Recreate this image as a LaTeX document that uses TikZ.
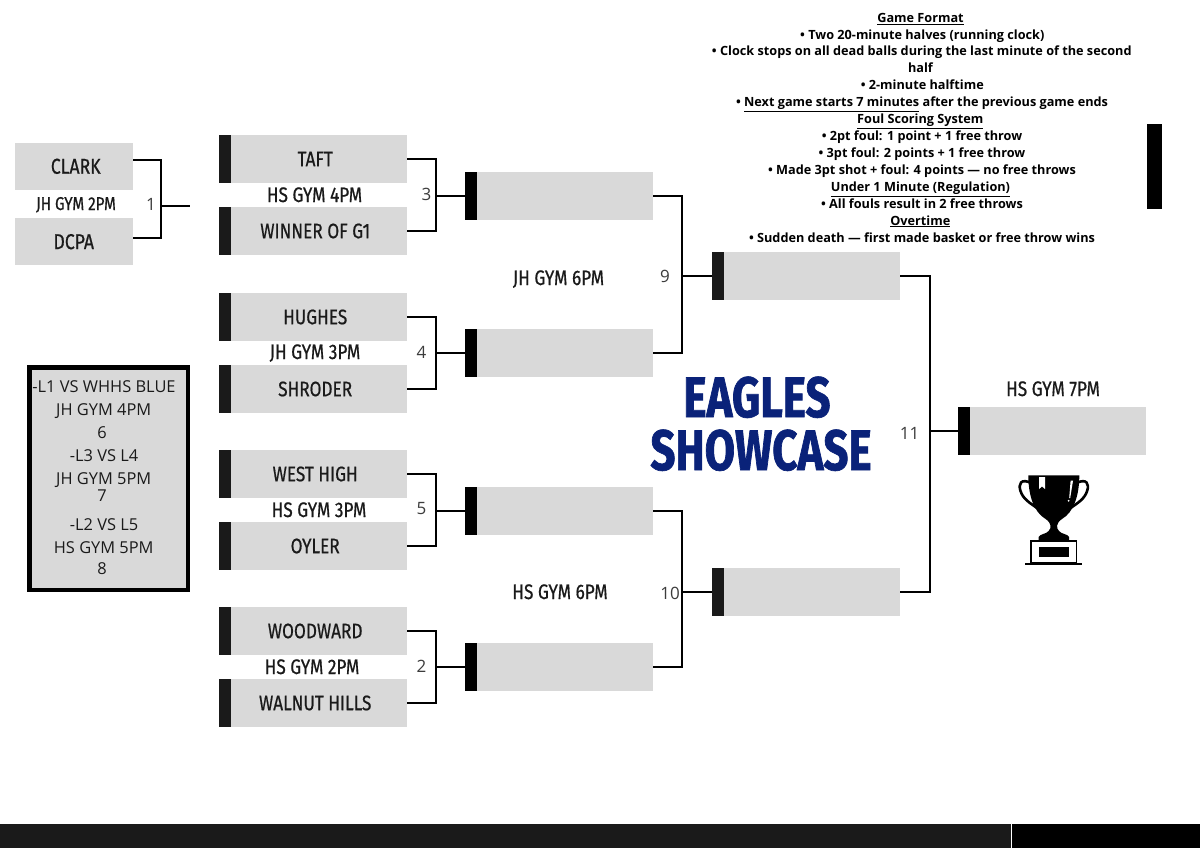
\documentclass[tikz,border=0pt]{standalone}
\usepackage{fontspec}
\setmainfont{Open Sans}
\newfontfamily\cond[FakeStretch=0.82,FakeBold=0.6]{Fira Sans}
\newfontfamily\titlef[FakeStretch=0.77,BoldFeatures={FakeBold=1.2}]{Fira Sans}
\definecolor{boxgrey}{HTML}{D9D9D9}
\definecolor{tabdark}{HTML}{1A1A1A}
\definecolor{navy}{HTML}{0A2279}
\tikzset{
  teambox/.style={fill=boxgrey,draw=none,inner sep=0,outer sep=0,minimum width=188.4pt,minimum height=47.5pt,text=tabdark,font=\cond\fontsize{21}{21}\selectfont},
  firstbox/.style={teambox,minimum width=118.5pt,font=\cond\fontsize{21.5}{21.5}\selectfont},
  tabbar/.style={fill=#1,draw=none,inner sep=0,outer sep=0,minimum width=12pt,minimum height=47.5pt},
  tabbar/.default=tabdark,
  wire/.style={draw=black,line width=2pt,line cap=butt,line join=miter},
  gymlabel/.style={inner sep=0,anchor=base,text=tabdark,font=\cond\fontsize{21}{21}\selectfont},
  smallgym/.style={gymlabel,font=\cond\fontsize{18.5}{18.5}\selectfont},
  gamenum/.style={inner sep=0,text=tabdark!85!white,font=\fontsize{17}{17}\selectfont},
  infoline/.style={inner sep=0,anchor=base,text=black,font=\bfseries\fontsize{12.7}{12.7}\selectfont},
  sidetext/.style={inner sep=0,anchor=base,text=tabdark,font=\fontsize{16.4}{16.4}\selectfont},
  titletext/.style={inner sep=0,anchor=base,text=navy,font=\titlef\bfseries\fontsize{57}{57}\selectfont}
}
\newcommand{\slot}[5][tabdark]{% color, name, left x, centre y, text
  \node[teambox,anchor=west] (#2) at (#3,#4) {\hspace*{4pt}#5};
  \node[tabbar=#1] (#2t) at (#3+6,#4) {};
}
\begin{document}
\begin{tikzpicture}[x=1pt,y=-1pt]
\useasboundingbox (0,0) rectangle (1200,848);
\fill[white] (0,0) rectangle (1200,848);
% footer and side bar
\fill[tabdark] (0,824) rectangle (1011,848);
\fill[black] (1012,824) rectangle (1200,848);
\fill[black] (1147,124.5) rectangle (1162,208.5);
% first game
\node[firstbox,anchor=west] (clark) at (14.5,166.7) {\hspace*{4pt}\raisebox{1pt}{CLARK}};
\node[firstbox,anchor=west] (dcpa) at (14.5,241.7) {DCPA};
% round one
\slot{taft}{219}{159}{TAFT}
\slot{winner}{219}{231}{WINNER OF G1}
\slot{hughes}{219}{317}{HUGHES}
\slot{shroder}{219}{389}{SHRODER}
\slot{west}{219}{474}{WEST HIGH}
\slot{oyler}{219}{546}{OYLER}
\slot{wood}{219}{631}{WOODWARD}
\slot{walnut}{219}{703}{WALNUT HILLS}
% round two
\slot[black]{qa}{465}{196}{}
\slot[black]{qb}{465}{353}{}
\slot[black]{qc}{465}{511}{}
\slot[black]{qd}{465}{667}{}
% semifinals
\slot{sa}{712}{276}{}
\slot{sb}{712}{592}{}
% final
\slot[black]{fin}{958}{431}{}
% connectors
\coordinate (g1end) at (190,206);
\draw[wire] ([yshift=6.3pt]clark.east) -- ++(28,0) |- ([yshift=3.3pt]dcpa.east);
\draw[wire] (161,206) -- (g1end);
\foreach \a/\b/\c/\jx in {taft/winner/qat/436,hughes/shroder/qbt/436,west/oyler/qct/436,wood/walnut/qdt/436,qa/qb/sat/682,qc/qd/sbt/682,sa/sb/fint/930}{
  \draw[wire] (\a.east) -| (\jx,0 |- \c.west) |- (\b.east);
  \draw[wire] (\jx,0 |- \c.west) -- (\c.west);
}
% schedule labels
\node[smallgym] (g1) at (76,210) {JH GYM 2PM};
\node[gymlabel] (g3) at (314.5,202) {HS GYM 4PM};
\node[gymlabel] (g4) at (315,359) {JH GYM 3PM};
\node[gymlabel] (g5) at (319,517) {HS GYM 3PM};
\node[gymlabel] (g2) at (312,674) {HS GYM 2PM};
\node[gymlabel] (g9) at (558.5,285) {JH GYM 6PM};
\node[gymlabel] (g10) at (560,599) {HS GYM 6PM};
\node[gymlabel] (g11) at (1053,396) {HS GYM 7PM};
% game numbers
\node[gamenum] (n1) at (151,204.5) {1};
\node[gamenum] (n3) at (426.5,194.5) {3};
\node[gamenum] (n4) at (421.5,352.5) {4};
\node[gamenum] (n5) at (421.5,509) {5};
\node[gamenum] (n2) at (421.5,666.5) {2};
\node[gamenum] (n9) at (665,276.5) {9};
\node[gamenum] (n10) at (670,593) {10};
\node[gamenum] (n11) at (909.5,433) {11};
% title
\node[titletext] (t1) at (757,417) {EAGLES};
\node[titletext] (t2) at (761,470) {SHOWCASE};
% consolation box
\node[draw=black,fill=boxgrey,line width=4.5pt,minimum width=158.5pt,minimum height=222.5pt,inner sep=0,anchor=north west] (side) at (27,365) {};
\node[sidetext] (s1) at (104,392.4) {-L1 VS WHHS BLUE};
\node[sidetext] (s2) at (103.7,415.7) {JH GYM 4PM};
\node[sidetext] (s3) at (102,438.4) {6};
\node[sidetext] (s4) at (104,461.4) {-L3 VS L4};
\node[sidetext] (s5) at (103.7,484.7) {JH GYM 5PM};
\node[sidetext] (s6) at (102,501.4) {7};
\node[sidetext] (s7) at (104,530.7) {-L2 VS L5};
\node[sidetext] (s8) at (103.7,553.4) {HS GYM 5PM};
\node[sidetext] (s9) at (102,574) {8};
% info text
\node[infoline] (i1) at (920.5,22.4) {\underline{Game Format}};
\node[infoline] (i2) at (922.3,39.2) {• Two 20-minute halves (running clock)};
\node[infoline] (i3) at (921.8,56) {• Clock stops on all dead balls during the last minute of the second};
\node[infoline] (i4) at (920.5,72.7) {half};
\node[infoline] (i5) at (922.3,90) {• 2-minute halftime};
\node[infoline] (i6) at (922,106.7) {• \underline{Next game starts 7 minutes} after the previous game ends};
\node[infoline] (i7) at (920.3,123.7) {\underline{Foul Scoring System}};
\node[infoline] (i8) at (922,140.4) {• 2pt foul: 1 point + 1 free throw};
\node[infoline] (i9) at (922,157.4) {• 3pt foul: 2 points + 1 free throw};
\node[infoline] (i10) at (922,174.7) {• Made 3pt shot + foul: 4 points — no free throws};
\node[infoline] (i11) at (920.5,191.4) {\underline{Under 1 Minute (Regulation)}};
\node[infoline] (i12) at (922,208) {• All fouls result in 2 free throws};
\node[infoline] (i13) at (920.3,225) {\underline{Overtime}};
\node[infoline] (i14) at (922,242) {• Sudden death — first made basket or free throw wins};
% trophy
\draw[black,line width=2.6pt] (1031,483) .. controls (1021,478) and (1018,484) .. (1020.5,491)
  .. controls (1023,499) and (1030,503) .. (1037,508);
\draw[black,line width=2.6pt] (1076.6,483) .. controls (1086.6,478) and (1089.6,484) .. (1087.1,491)
  .. controls (1084.6,499) and (1077.6,503) .. (1070.6,508);
\fill[black] (1028.3,475.3) -- (1079.3,475.3) .. controls (1079.3,495) and (1074,512) .. (1062,519)
  .. controls (1056,523) and (1056,528) .. (1059,531) .. controls (1061,534) and (1068,534) .. (1069,537)
  -- (1069,541) -- (1038.6,541) -- (1038.6,537) .. controls (1039.6,534) and (1046.6,534) .. (1048.6,531)
  .. controls (1051.6,528) and (1051.6,523) .. (1045.6,519) .. controls (1033.6,512) and (1028.3,495) .. cycle;
\fill[white] (1039,477) -- (1045,477) -- (1045,489) -- (1042,486.5) -- (1039,489) -- cycle;
\fill[white] (1070.6,480.7) -- (1073,480.7) -- (1070.2,498) -- (1069.2,498) -- cycle;
\fill[white] (1068.6,500.8) circle (1);
\draw[black,line width=1.6pt] (1030.8,541.2) rectangle (1076.6,563);
\fill[black] (1039,547.3) rectangle (1069,557.3);
\draw[black,line width=2pt] (1025,563.5) -- (1082.3,563.5);
\end{tikzpicture}
\end{document}
